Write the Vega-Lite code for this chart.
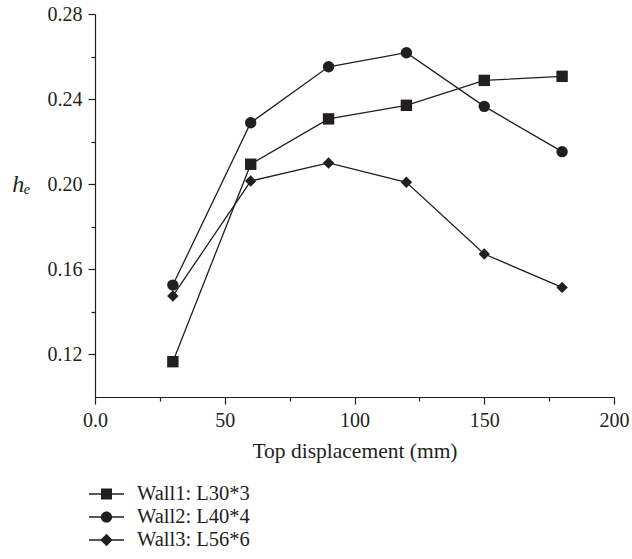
{
  "$schema": "https://vega.github.io/schema/vega-lite/v6.json",
  "width": 519,
  "height": 383,
  "autosize": {"type": "none"},
  "padding": {"left": 95, "top": 14, "right": 18, "bottom": 162},
  "background": "white",
  "config": {
    "font": "Liberation Serif",
    "view": {"stroke": null},
    "axis": {
      "grid": false,
      "domainColor": "#231f20",
      "domainWidth": 1.2,
      "tickColor": "#231f20",
      "tickWidth": 1.2,
      "labelColor": "#231f20",
      "labelFont": "Liberation Serif",
      "labelFontSize": 20,
      "titleColor": "#231f20",
      "titleFont": "Liberation Serif",
      "titleFontWeight": "normal"
    }
  },
  "data": {
    "values": [
      {"wall": "Wall1: L30*3", "disp": 30, "he": 0.1166},
      {"wall": "Wall1: L30*3", "disp": 60, "he": 0.2094},
      {"wall": "Wall1: L30*3", "disp": 90, "he": 0.2307},
      {"wall": "Wall1: L30*3", "disp": 120, "he": 0.2371},
      {"wall": "Wall1: L30*3", "disp": 150, "he": 0.2488},
      {"wall": "Wall1: L30*3", "disp": 180, "he": 0.2507},
      {"wall": "Wall2: L40*4", "disp": 30, "he": 0.1526},
      {"wall": "Wall2: L40*4", "disp": 60, "he": 0.2289},
      {"wall": "Wall2: L40*4", "disp": 90, "he": 0.2552},
      {"wall": "Wall2: L40*4", "disp": 120, "he": 0.2618},
      {"wall": "Wall2: L40*4", "disp": 150, "he": 0.2366},
      {"wall": "Wall2: L40*4", "disp": 180, "he": 0.2153},
      {"wall": "Wall3: L56*6", "disp": 30, "he": 0.1475},
      {"wall": "Wall3: L56*6", "disp": 60, "he": 0.2015},
      {"wall": "Wall3: L56*6", "disp": 90, "he": 0.2100},
      {"wall": "Wall3: L56*6", "disp": 120, "he": 0.2009},
      {"wall": "Wall3: L56*6", "disp": 150, "he": 0.1672},
      {"wall": "Wall3: L56*6", "disp": 180, "he": 0.1515}
    ]
  },
  "encoding": {
    "x": {
      "field": "disp",
      "type": "quantitative",
      "scale": {"domain": [0, 200], "nice": false, "zero": false},
      "axis": {
        "title": "Top displacement (mm)",
        "titleFontSize": 21.5,
        "titlePadding": 10,
        "values": [0, 25, 50, 75, 100, 125, 150, 175, 200],
        "labelExpr": "datum.value % 50 === 0 ? (datum.value === 0 ? '0.0' : datum.label) : ''",
        "tickSize": {"condition": {"test": "datum.value % 50 === 0", "value": 7}, "value": 4},
        "labelPadding": 6,
        "labelFlush": false
      }
    },
    "y": {
      "field": "he",
      "type": "quantitative",
      "scale": {"domain": [0.10, 0.28], "nice": false, "zero": false},
      "axis": {
        "title": "hₑ",
        "titleFontSize": 24,
        "titleFontStyle": "italic",
        "titleAngle": 0,
        "titleX": -74,
        "titleY": 170,
        "titleAlign": "center",
        "titleBaseline": "middle",
        "values": [0.12, 0.14, 0.16, 0.18, 0.20, 0.22, 0.24, 0.26, 0.28],
        "labelExpr": "round(datum.value * 100) % 4 === 0 ? format(datum.value, '.2f') : ''",
        "tickSize": {"condition": {"test": "round(datum.value * 100) % 4 === 0", "value": 7}, "value": 4},
        "labelPadding": 6,
        "labelFlush": false
      }
    }
  },
  "layer": [
    {
      "mark": {"type": "line", "color": "#231f20", "strokeWidth": 1.3},
      "encoding": {"detail": {"field": "wall", "type": "nominal"}}
    },
    {
      "mark": {"type": "point", "filled": true, "color": "#231f20", "size": 130, "opacity": 1},
      "encoding": {
        "shape": {
          "field": "wall",
          "type": "nominal",
          "scale": {"range": ["square", "circle", "diamond"]},
          "legend": null
        }
      }
    },
    {
      "mark": {"type": "point", "filled": true, "color": "#231f20", "size": 400, "opacity": 0},
      "encoding": {
        "shape": {
          "field": "wall",
          "type": "nominal",
          "scale": {"range": [
            "M-1.75,-0.065H-0.4V0.065H-1.75ZM0.4,-0.065H1.75V0.065H0.4ZM-0.55,-0.55H0.55V0.55H-0.55Z",
            "M-1.75,-0.065H-0.4V0.065H-1.75ZM0.4,-0.065H1.75V0.065H0.4ZM-0.56,0A0.56,0.56,0,1,1,0.56,0A0.56,0.56,0,1,1,-0.56,0Z",
            "M-1.75,-0.065H-0.4V0.065H-1.75ZM0.4,-0.065H1.75V0.065H0.4ZM0,-0.62L0.62,0L0,0.62L-0.62,0Z"
          ]},
          "legend": {
            "title": null,
            "orient": "none",
            "legendX": 0.5,
            "legendY": 469,
            "padding": 0,
            "symbolSize": 400,
            "symbolOpacity": 1,
            "symbolFillColor": "#231f20",
            "labelFont": "Liberation Serif",
            "labelFontSize": 20.5,
            "labelColor": "#231f20",
            "labelOffset": 19.5,
            "rowPadding": 1
          }
        }
      }
    }
  ],
  "resolve": {"scale": {"shape": "independent"}, "legend": {"shape": "independent"}}
}
